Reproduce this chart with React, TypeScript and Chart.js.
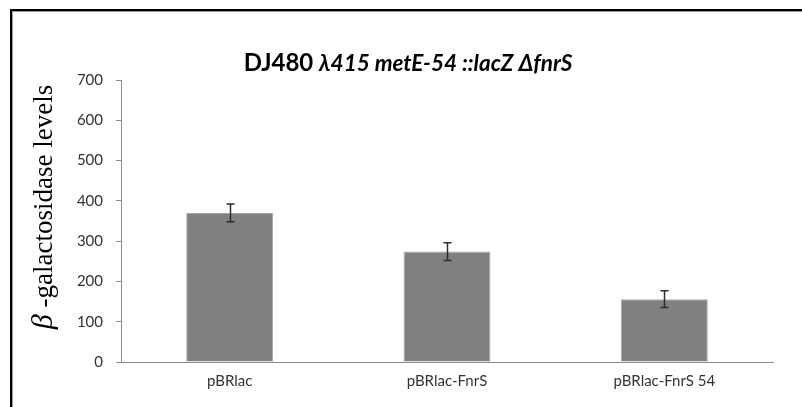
import React, { useEffect, useRef } from "react";
import { Chart, registerables } from "chart.js";

Chart.register(...registerables);

const categories: string[] = ["pBRlac", "pBRlac-FnrS", "pBRlac-FnrS 54"];
const values: number[] = [370, 274, 156];
const errors: number[] = [22, 22, 21];
const yMin = 0;
const yMax = 700;
const yStep = 100;
const titleMain = "DJ480";
const titleItalic = "λ415 metE-54 ::lacZ ΔfnrS";
const yLabelGreek = "β";
const yLabelRest = " -galactosidase levels";

const framePlugin = {
  id: "frame",
  beforeDraw(chart: any) {
    const ctx = chart.ctx;
    ctx.save();
    ctx.fillStyle = "#ffffff";
    ctx.fillRect(0, 0, chart.width, chart.height);
    ctx.fillStyle = "#000000";
    ctx.fillRect(10, 9, chart.width - 10, 2);
    ctx.fillRect(10, 9, 2, chart.height - 9);
    ctx.fillStyle = "#9a9a9a";
    ctx.fillRect(12, 11, chart.width - 12, 1);
    ctx.fillRect(12, 11, 1, chart.height - 11);
    ctx.restore();
  },
};

const titlePlugin = {
  id: "mixedTitle",
  afterDraw(chart: any) {
    const ctx = chart.ctx;
    ctx.save();
    ctx.fillStyle = "#000000";
    ctx.textBaseline = "alphabetic";
    const f1 = "bold 24px Lato";
    const f2 = "italic bold 22.5px Lato";
    ctx.font = f1;
    const w1 = ctx.measureText(titleMain + " ").width;
    ctx.font = f2;
    const w2 = ctx.measureText(titleItalic).width;
    const cx = 408;
    const x0 = cx - (w1 + w2) / 2;
    const by = 71;
    ctx.font = f1;
    ctx.textAlign = "left";
    ctx.fillText(titleMain + " ", x0, by);
    ctx.font = f2;
    ctx.fillText(titleItalic, x0 + w1, by);

    // y axis label
    const g1 = "italic 30px 'Liberation Serif'";
    const g2 = "27px 'Liberation Serif'";
    ctx.font = g1;
    const lw1 = ctx.measureText(yLabelGreek).width;
    ctx.font = g2;
    const lw2 = ctx.measureText(yLabelRest).width;
    ctx.translate(52, 207);
    ctx.rotate(-Math.PI / 2);
    const sx = -(lw1 + lw2) / 2;
    ctx.fillStyle = "#000000";
    ctx.font = g1;
    ctx.fillText(yLabelGreek, sx, 0);
    ctx.font = g2;
    ctx.fillText(yLabelRest, sx + lw1, 0);
    ctx.restore();
  },
};

const errorBarPlugin = {
  id: "errorBars",
  afterDatasetsDraw(chart: any) {
    const ctx = chart.ctx;
    const meta = chart.getDatasetMeta(0);
    const yScale = chart.scales.y;
    ctx.save();
    ctx.strokeStyle = "#2b2b2b";
    ctx.lineWidth = 1.5;
    meta.data.forEach((bar: any, i: number) => {
      const x = Math.round(bar.x) + 0.5;
      const top = yScale.getPixelForValue(values[i] + errors[i]);
      const bot = yScale.getPixelForValue(values[i] - errors[i]);
      ctx.beginPath();
      ctx.moveTo(x, top);
      ctx.lineTo(x, bot);
      ctx.moveTo(x - 4, top);
      ctx.lineTo(x + 4, top);
      ctx.moveTo(x - 4, bot);
      ctx.lineTo(x + 4, bot);
      ctx.stroke();
    });
    ctx.restore();
  },
};

export default function App() {
  const ref = useRef<HTMLCanvasElement | null>(null);
  useEffect(() => {
    if (!ref.current) return;
    const chart = new Chart(ref.current, {
      type: "bar",
      data: {
        labels: categories,
        datasets: [
          {
            data: values,
            backgroundColor: "#808080",
            borderColor: "#a6a6a6",
            borderWidth: 1,
            barPercentage: 0.4,
            categoryPercentage: 1,
          },
        ],
      },
      options: {
        animation: false,
        responsive: false,
        devicePixelRatio: 1,
        layout: { padding: { left: 0, right: 29, top: 80, bottom: 0 } },
        plugins: {
          legend: { display: false },
          title: { display: false },
          tooltip: { enabled: false },
        },
        scales: {
          x: {
            grid: { display: false, drawTicks: false },
            border: { display: true, color: "#8c8c8c", width: 1 },
            ticks: {
              color: "#333333",
              font: { family: "Lato", size: 15 },
              padding: 10,
              maxRotation: 0,
            },
            afterFit(s: any) {
              s.height = 45;
            },
          },
          y: {
            min: yMin,
            max: yMax,
            grid: {
              drawOnChartArea: false,
              drawTicks: true,
              tickLength: 5,
              color: "#8c8c8c",
            },
            border: { display: true, color: "#8c8c8c", width: 1 },
            ticks: {
              stepSize: yStep,
              color: "#333333",
              font: { family: "Lato", size: 15 },
              padding: 13,
            },
            afterFit(s: any) {
              s.width = 121;
            },
          },
        },
      },
      plugins: [framePlugin, titlePlugin, errorBarPlugin],
    } as any);
    return () => chart.destroy();
  }, []);
  return (
    <div style={{ position: "fixed", left: 0, top: 0, width: 802, height: 407 }}>
      <canvas ref={ref} width={802} height={407} style={{ display: "block" }} />
    </div>
  );
}
